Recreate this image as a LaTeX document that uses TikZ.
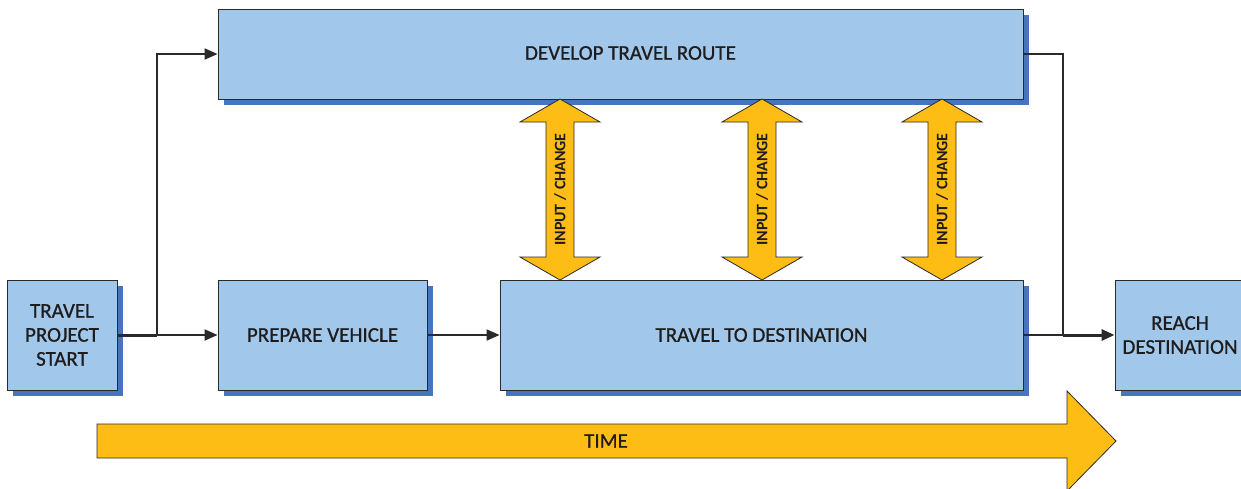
\documentclass[tikz,border=0pt]{standalone}
\usepackage{fontspec}
\setmainfont{Carlito}
\newfontfamily\boxfont{Carlito}[RawFeature={embolden=0.8}]
\usetikzlibrary{arrows.meta,shadows}
\definecolor{boxblue}{HTML}{A1C7EA}
\definecolor{shadowblue}{HTML}{4874BE}
\definecolor{arrowyellow}{HTML}{FDBD14}
\definecolor{txt}{HTML}{1E1C1D}
\definecolor{edge}{HTML}{2A2A2A}
\tikzset{
  boxtext/.style={text=txt, font=\boxfont\fontsize{21}{24}\selectfont, align=center, inner sep=0pt},
  stepbox/.style={draw=edge, line width=0.9pt, fill=boxblue, boxtext,
    general shadow={shadow xshift=6pt, shadow yshift=-6pt, fill=shadowblue}},
  conn/.style={draw=edge, line width=2pt},
  connthick/.style={draw=edge, line width=3pt},
  tip/.style={-{Triangle[length=13pt,width=11pt]}},
  bigarrow/.style={draw=edge, line width=0.8pt, fill=arrowyellow},
  arrowlabel/.style={text=txt, font=\fontsize{16}{16}\selectfont\bfseries, inner sep=0pt}
}
\begin{document}
\begin{tikzpicture}[x=1pt,y=-1pt]
\useasboundingbox (0,0) rectangle (1241,488);
\clip (0,0) rectangle (1241,488);
% boxes
\node[stepbox, minimum width=110pt, minimum height=110pt] (start) at (62,335) {TRAVEL\\PROJECT\\START};
\node[stepbox, minimum width=209pt, minimum height=110pt] (prep) at (322.5,335) {PREPARE VEHICLE};
\node[stepbox, minimum width=523pt, minimum height=110pt] (travel) at (761.5,335) {TRAVEL TO DESTINATION};
\node[stepbox, minimum width=805pt, minimum height=90pt] (route) at (620.5,54) {};
\node[boxtext] (routetext) at (630.5,53) {DEVELOP TRAVEL ROUTE};
\node[stepbox, minimum width=130pt, minimum height=110pt] (reach) at (1180,335) {REACH\\DESTINATION};
% junctions
\coordinate (j1) at (157,335);
\coordinate (j2) at (1063,335);
\coordinate (r1) at (1063,54);
% connectors
\draw[connthick] (start.east) -- (j1);
\draw[conn, tip] (j1) |- (route.west);
\draw[conn, tip] (j1) -- (prep.west);
\draw[conn, tip] (prep.east) -- (travel.west);
\draw[conn] (route.east) -- (r1) -- (j2);
\draw[conn] (travel.east) -- (j2);
\draw[connthick, tip] (j2) -- (reach.west);
% double arrows
\foreach \c/\n in {560/a, 762/b, 942/c}{
  \draw[bigarrow] (\c,99) -- (\c+40,122) -- (\c+14,122) -- (\c+14,257) -- (\c+40,257) -- (\c,280)
    -- (\c-40,257) -- (\c-14,257) -- (\c-14,122) -- (\c-40,122) -- cycle;
  \node[arrowlabel, rotate=90] (lab\n) at (\c,189.5) {INPUT / CHANGE};
}
% time arrow
\draw[bigarrow] (97,424) -- (1067,424) -- (1067,391) -- (1116,441) -- (1067,491) -- (1067,458) -- (97,458) -- cycle;
\node[boxtext] (time) at (606,441) {TIME};
\end{tikzpicture}
\end{document}
